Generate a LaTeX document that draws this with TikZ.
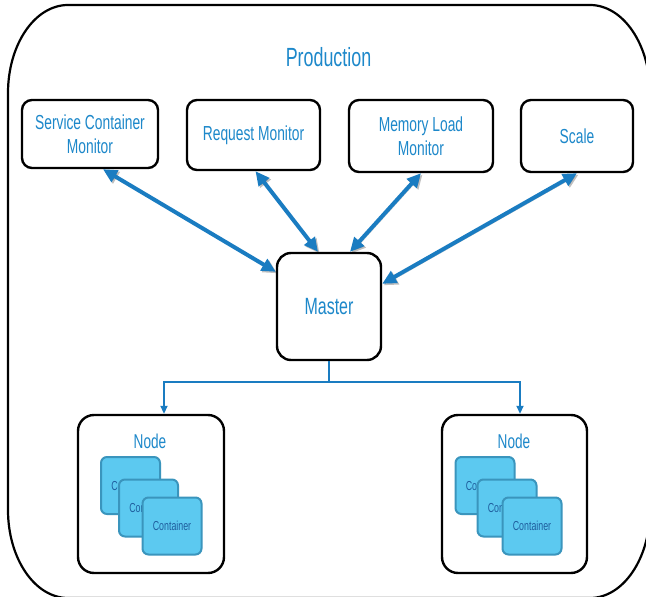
\documentclass[tikz,border=0pt]{standalone}
\usepackage{fontspec}
\setmainfont[FakeStretch=0.68]{Liberation Sans}
\usetikzlibrary{arrows.meta,calc}

\definecolor{labelblue}{HTML}{1D88CA}
\definecolor{arrowblue}{HTML}{1A7CC1}
\definecolor{cfill}{HTML}{5CC9F0}
\definecolor{cborder}{HTML}{3A95BD}
\definecolor{ctext}{HTML}{1F5E9E}

\tikzset{
  panel/.style={draw=black, line width=2.4pt, rounded corners=10pt, fill=white,
    text=labelblue, align=center, inner sep=0pt,
    font=\fontsize{20.3}{24}\selectfont},
  masterbox/.style={panel, rounded corners=14pt, font=\fontsize{23.5}{28}\selectfont},
  nodebox/.style={panel, rounded corners=16pt},
  ctr/.style={draw=cborder, line width=2pt, fill=cfill, rounded corners=6pt,
    minimum width=59pt, minimum height=57pt, inner sep=0pt, text=ctext,
    font=\fontsize{13}{15}\selectfont},
  link/.style={draw=arrowblue, line width=4pt,
    {Triangle[length=14pt,width=13pt]}-{Triangle[length=14pt,width=13pt]},
    preaction={draw=black, opacity=0.25,
      transform canvas={shift={(1.5pt,-1.5pt)}}}},
  feed/.style={draw=arrowblue, line width=1.8pt,
    -{Triangle[length=8pt,width=7pt]}},
}

\begin{document}
\begin{tikzpicture}[x=1pt, y=-1pt]
  \useasboundingbox (0,0) rectangle (646,597);

  % production frame with elliptical corners, partly beyond the page edge
  \begin{scope}
    \clip (0,0) rectangle (646,597);
    \draw[line width=2.2pt]
      (68,5) -- (590,5)
      arc[start angle=-90, end angle=0, x radius=60, y radius=88]
      -- (650,510)
      arc[start angle=0, end angle=90, x radius=60, y radius=88]
      -- (68,598)
      arc[start angle=90, end angle=180, x radius=60, y radius=88]
      -- (8,93)
      arc[start angle=180, end angle=270, x radius=60, y radius=88];
  \end{scope}

  \node[text=labelblue, font=\fontsize{26.3}{30}\selectfont] (prod) at (328.5,57) {Production};

  % monitoring services
  \node[panel, minimum width=136pt, minimum height=68pt] (scm) at (90,134)
    {Service Container\\Monitor};
  \node[panel, minimum width=133pt, minimum height=70pt] (req) at (253.5,135)
    {Request Monitor};
  \node[panel, minimum width=144pt, minimum height=72pt] (mem) at (421,136)
    {Memory Load\\Monitor};
  \node[panel, minimum width=112pt, minimum height=72pt] (scale) at (577,136)
    {Scale};

  % master
  \node[masterbox, minimum width=104pt, minimum height=107pt] (master) at (329,306.5)
    {Master};

  % links between services and master
  \draw[link] ([xshift=13pt]scm.south) -- ([yshift=-20pt]master.north west);
  \draw[link] ([xshift=2pt]req.south) -- ([xshift=-11pt]master.north);
  \draw[link] (mem.south) -- ([xshift=21pt]master.north);
  \draw[link] (scale.south) -- ([yshift=-32pt]master.north east);

  % worker nodes
  \node[nodebox, minimum width=146pt, minimum height=158pt] (n1) at (151,494) {};
  \node[nodebox, minimum width=145pt, minimum height=158pt] (n2) at (514.5,494) {};
  \node[text=labelblue, font=\fontsize{20}{24}\selectfont] (n1lab) at (150,441) {Node};
  \node[text=labelblue, font=\fontsize{20}{24}\selectfont] (n2lab) at (514,441) {Node};

  % stacked containers
  \node[ctr] (a1) at (130.5,485.5) {Container};
  \node[ctr] (a2) at (148.5,508) {Container};
  \node[ctr] (a3) at (172,526) {Container};
  \node[ctr] (b1) at (485,485.5) {Container};
  \node[ctr] (b2) at (507,508) {Container};
  \node[ctr] (b3) at (532,526) {Container};

  % master to nodes
  \coordinate (split) at ($(master.south)+(0,21)$);
  \draw[feed] (master.south) -- (split) -| ([xshift=13pt]n1.north);
  \draw[feed] (split) -| ([xshift=5.5pt]n2.north);
\end{tikzpicture}
\end{document}
